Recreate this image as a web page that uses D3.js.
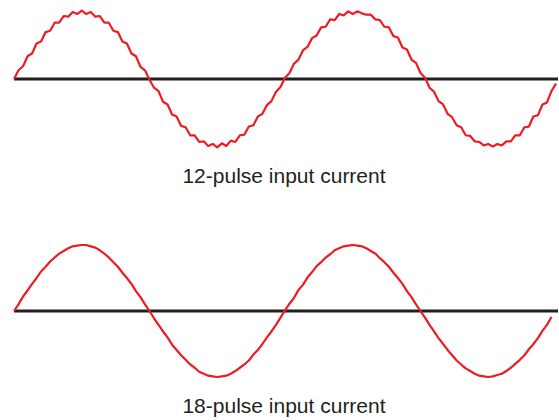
<!DOCTYPE html>
<html>
<head>
<meta charset="utf-8">
<script src="https://cdn.jsdelivr.net/npm/d3@7"></script>
<style>
  body { margin: 0; background: #fff; }
  .caption { font-family: "Liberation Sans", Arial, sans-serif; font-size: 21px; fill: #231f20; }
</style>
</head>
<body>
<div id="chart"></div>
<script>
// sample spacing in electrical degrees, two full cycles
var stepDeg = 6;
var titles = ["12-pulse input current", "18-pulse input current"];

// per-unit current, one value every 6 degrees (0..720)
var pulse12 = [
  0.00, 0.13, 0.19, 0.34, 0.38, 0.53, 0.56, 0.70, 0.72, 0.84, 0.84, 0.94, 0.93, 1.00, 0.97, 1.02,
  0.97, 1.00, 0.93, 0.94, 0.84, 0.84, 0.72, 0.70, 0.56, 0.53, 0.38, 0.34, 0.18, 0.13, -0.01,
  -0.13, -0.18, -0.34, -0.38, -0.53, -0.56, -0.70, -0.72, -0.84, -0.84, -0.94, -0.93, -1.00, -0.97,
  -1.02, -0.96, -1.00, -0.92, -0.94, -0.84, -0.83, -0.71, -0.69, -0.56, -0.52, -0.39, -0.33, -0.19, -0.12,
  0.02,
  0.09, 0.23, 0.29, 0.43, 0.48, 0.61, 0.65, 0.77, 0.78, 0.89, 0.88, 0.97, 0.95, 1.01, 0.97,
  1.01, 0.98, 0.96, 0.96, 0.89, 0.88, 0.78, 0.77, 0.64, 0.62, 0.47, 0.44, 0.29, 0.24, 0.09, 0.02,
  -0.13, -0.19, -0.33, -0.38, -0.52, -0.57, -0.69, -0.72, -0.84, -0.85, -0.93, -0.94, -0.99, -0.97,
  -1.01, -0.97, -0.99, -0.93, -0.93, -0.84, -0.84, -0.72, -0.71, -0.56, -0.54, -0.38, -0.35, -0.18, -0.07
];

var pulse18 = [
  0.00, 0.10, 0.22, 0.31, 0.41, 0.50, 0.60, 0.67, 0.75, 0.81, 0.87, 0.91, 0.95, 0.98, 0.99, 1.00,
  1.00, 0.98, 0.96, 0.92, 0.87, 0.81, 0.74, 0.67, 0.58, 0.50, 0.41, 0.30, 0.21, 0.10, 0.00,
  -0.11, -0.21, -0.31, -0.40, -0.51, -0.59, -0.67, -0.74, -0.81, -0.86, -0.92, -0.95, -0.98, -0.99,
  -1.00, -0.99, -0.98, -0.95, -0.91, -0.86, -0.81, -0.75, -0.66, -0.59, -0.50, -0.40, -0.31, -0.21, -0.10,
  0.01,
  0.11, 0.20, 0.32, 0.40, 0.51, 0.59, 0.68, 0.74, 0.81, 0.86, 0.92, 0.95, 0.98, 0.99, 1.00,
  0.99, 0.98, 0.95, 0.91, 0.87, 0.80, 0.74, 0.67, 0.58, 0.50, 0.41, 0.30, 0.21, 0.10, 0.00,
  -0.10, -0.21, -0.31, -0.41, -0.50, -0.59, -0.67, -0.75, -0.81, -0.87, -0.91, -0.95, -0.98, -0.99,
  -1.00, -0.99, -0.97, -0.95, -0.91, -0.86, -0.80, -0.74, -0.67, -0.58, -0.50, -0.41, -0.30, -0.21, -0.09
];

var W = 559, H = 420;
var svg = d3.select("#chart").append("svg").attr("width", W).attr("height", H);

var x = d3.scaleLinear().domain([0, 720]).range([14, 556]);

var panels = [
  {data: pulse12, zero: 79, amp: 67, cap: 183},
  {data: pulse18, zero: 311, amp: 66, cap: 413}
];

panels.forEach(function(p, i){
  var y = d3.scaleLinear().domain([-1, 1]).range([p.zero + p.amp, p.zero - p.amp]);
  var g = svg.append("g");

  g.append("line")
    .attr("x1", x(0)).attr("x2", 558)
    .attr("y1", y(0)).attr("y2", y(0))
    .attr("stroke", "#231f20").attr("stroke-width", 3);

  var line = d3.line()
    .x(function(d, j){ return x(j * stepDeg); })
    .y(function(d){ return y(d); });

  g.append("path")
    .datum(p.data)
    .attr("d", line)
    .attr("fill", "none")
    .attr("stroke", "#ed1c24")
    .attr("stroke-width", 2.2)
    .attr("stroke-linejoin", "round");

  g.append("text").attr("class", "caption")
    .attr("x", 284).attr("y", p.cap)
    .attr("text-anchor", "middle")
    .text(titles[i]);
});
</script>
</body>
</html>
